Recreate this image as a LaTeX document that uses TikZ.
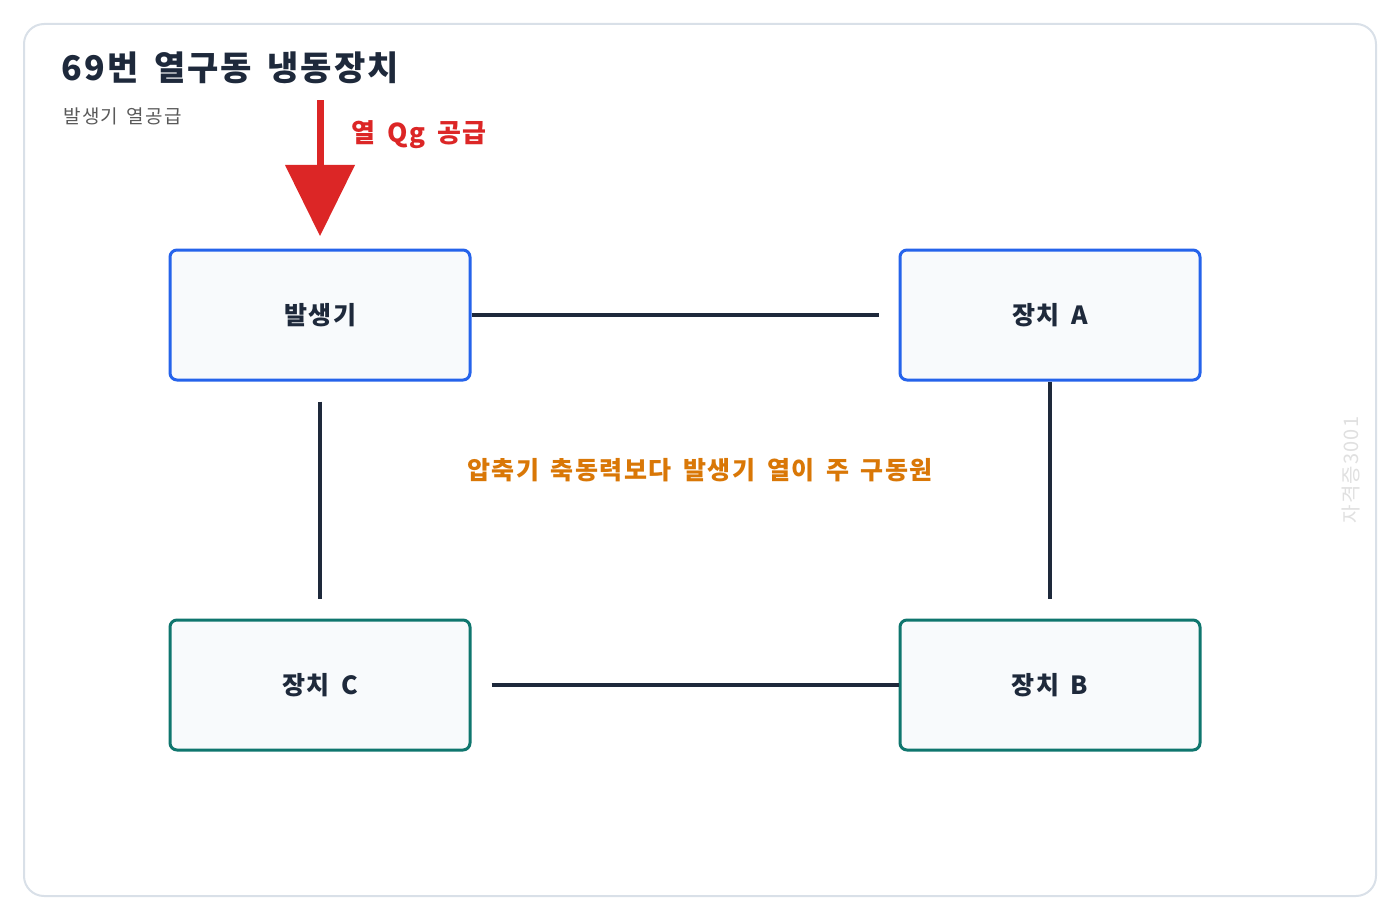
\documentclass[tikz,border=0pt]{standalone}
\usepackage{fontspec}
\setmainfont{Noto Sans CJK KR}
\newfontfamily\wide[LetterSpace=6,WordSpace=1.6]{Noto Sans CJK KR}
\begin{document}
\begin{tikzpicture}[x=1pt,y=-1pt,
 box/.style={draw,line width=3pt,rounded corners=7pt,fill=boxfill,minimum width=300pt,minimum height=130pt,font=\wide\fontsize{25}{28}\selectfont\bfseries,text=ink},
 conn/.style={draw=ink,line width=3.5pt}]
\definecolor{ink}{HTML}{1E293B}\definecolor{boxfill}{HTML}{F8FAFC}
\definecolor{bl}{HTML}{2563EB}\definecolor{tl}{HTML}{0F766E}
\definecolor{rd}{HTML}{DC2626}\definecolor{or}{HTML}{D97706}
\definecolor{frame}{HTML}{D9E0E8}
\useasboundingbox (0,0) rectangle (1400,920);
\draw[draw=frame,line width=2pt,rounded corners=20pt,fill=white] (24,24) rectangle (1376,896);
\node[anchor=west,font=\wide\fontsize{34}{38}\selectfont\bfseries,text=ink] (t) at (58,68) {69번 열구동 냉동장치};
\node[anchor=west,font=\wide\fontsize{19}{22}\selectfont,text=black!65] (s) at (60,116) {발생기 열공급};
\node[box,draw=bl] (g) at (320,315) {발생기};
\node[box,draw=bl] (a) at (1050,315) {장치 A};
\node[box,draw=tl] (c) at (320,685) {장치 C};
\node[box,draw=tl] (b) at (1050,685) {장치 B};
\fill[rd] (316.5,100) rectangle (323.5,166);
\fill[rd] (285,165) -- (355,165) -- (320,236) -- cycle;
\node[anchor=west,font=\wide\fontsize{26}{30}\selectfont\bfseries,text=rd] (ql) at (348,135) {열 Qg 공급};
\draw[conn] (g.east) -- ([xshift=-20pt]a.west);
\draw[conn] (a.south) -- ([yshift=20pt]b.north);
\draw[conn] ([xshift=20pt]c.east) -- (b.west);
\draw[conn] ([yshift=-20pt]g.south) -- ([yshift=20pt]c.north);
\node[font=\wide\fontsize{25}{30}\selectfont\bfseries,text=or] (m) at (700,470) {압축기 축동력보다 발생기 열이 주 구동원};
\node[rotate=90,font=\wide\fontsize{20}{24}\selectfont,text=black!12] (w) at (1351,470) {자격증3001};
\end{tikzpicture}
\end{document}
